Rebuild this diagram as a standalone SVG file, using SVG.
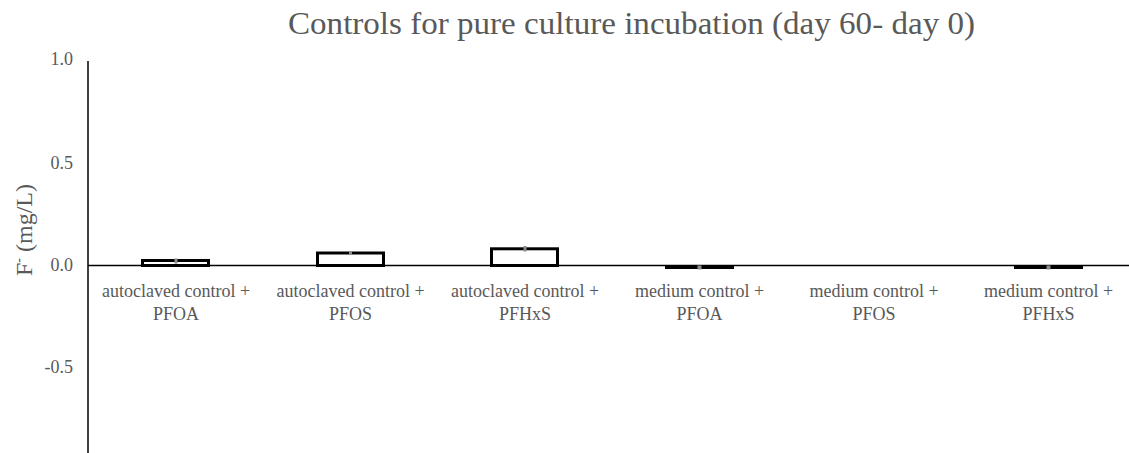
<svg xmlns="http://www.w3.org/2000/svg" width="1129" height="453" viewBox="0 0 1129 453" font-family="'Liberation Serif', 'Times New Roman', 'DejaVu Serif', serif">
<style>
text{font-family:'Liberation Serif','Times New Roman','DejaVu Serif',serif;fill:#595959}
.tick{font-size:18px;text-anchor:end}
.cat{font-size:18px;text-anchor:middle}
.bar{fill:none;stroke:#000;stroke-width:3}
.neg{fill:#000}
.err{fill:#8c8c8c}
.axis{stroke:#000;stroke-width:1.5;fill:none}
</style>
<rect width="1129" height="453" fill="#fff"/>
<g id="title"><text x="288" y="34" font-size="32" textLength="687" lengthAdjust="spacingAndGlyphs">Controls for pure culture incubation (day 60- day 0)</text></g>
<g id="y-axis">
<line class="axis" x1="88" y1="61" x2="88" y2="453" stroke="#222" stroke-width="2"/>
<text class="tick" x="73" y="65">1.0</text>
<text class="tick" x="73" y="169">0.5</text>
<text class="tick" x="73" y="271">0.0</text>
<text class="tick" x="73" y="373">-0.5</text>
<text transform="translate(32,276) rotate(-90)" font-size="24"><tspan>F</tspan><tspan font-size="14" dy="-9">-</tspan><tspan dy="9">  (mg/L)</tspan></text>
</g>
<g id="x-axis"><line class="axis" x1="88" y1="265.5" x2="1129" y2="265.5"/></g>
<g id="bar-autoclaved-pfoa">
<rect class="bar" x="142.5" y="260.5" width="66" height="5"/>
<rect class="err" x="174.5" y="258.5" width="3" height="5"/>
<text class="cat" x="176" y="297">autoclaved control +</text>
<text class="cat" x="176" y="320">PFOA</text>
</g>
<g id="bar-autoclaved-pfos">
<rect class="bar" x="317.5" y="253" width="66" height="12.5"/>
<rect class="err" x="349" y="251" width="3" height="4"/>
<text class="cat" x="350.5" y="297">autoclaved control +</text>
<text class="cat" x="350.5" y="320">PFOS</text>
</g>
<g id="bar-autoclaved-pfhxs">
<rect class="bar" x="491.5" y="248.8" width="66" height="16.7"/>
<rect class="err" x="523.5" y="246" width="3" height="5.5"/>
<text class="cat" x="525" y="297">autoclaved control +</text>
<text class="cat" x="525" y="320">PFHxS</text>
</g>
<g id="bar-medium-pfoa">
<rect class="neg" x="665" y="265.5" width="69" height="3.5"/>
<rect class="err" x="697.5" y="265.5" width="4" height="4"/>
<text class="cat" x="699.5" y="297">medium control +</text>
<text class="cat" x="699.5" y="320">PFOA</text>
</g>
<g id="bar-medium-pfos">
<text class="cat" x="874" y="297">medium control +</text>
<text class="cat" x="874" y="320">PFOS</text>
</g>
<g id="bar-medium-pfhxs">
<rect class="neg" x="1014" y="265.5" width="69" height="3.5"/>
<rect class="err" x="1046.5" y="265.5" width="4" height="4"/>
<text class="cat" x="1048.5" y="297">medium control +</text>
<text class="cat" x="1048.5" y="320">PFHxS</text>
</g>
</svg>
